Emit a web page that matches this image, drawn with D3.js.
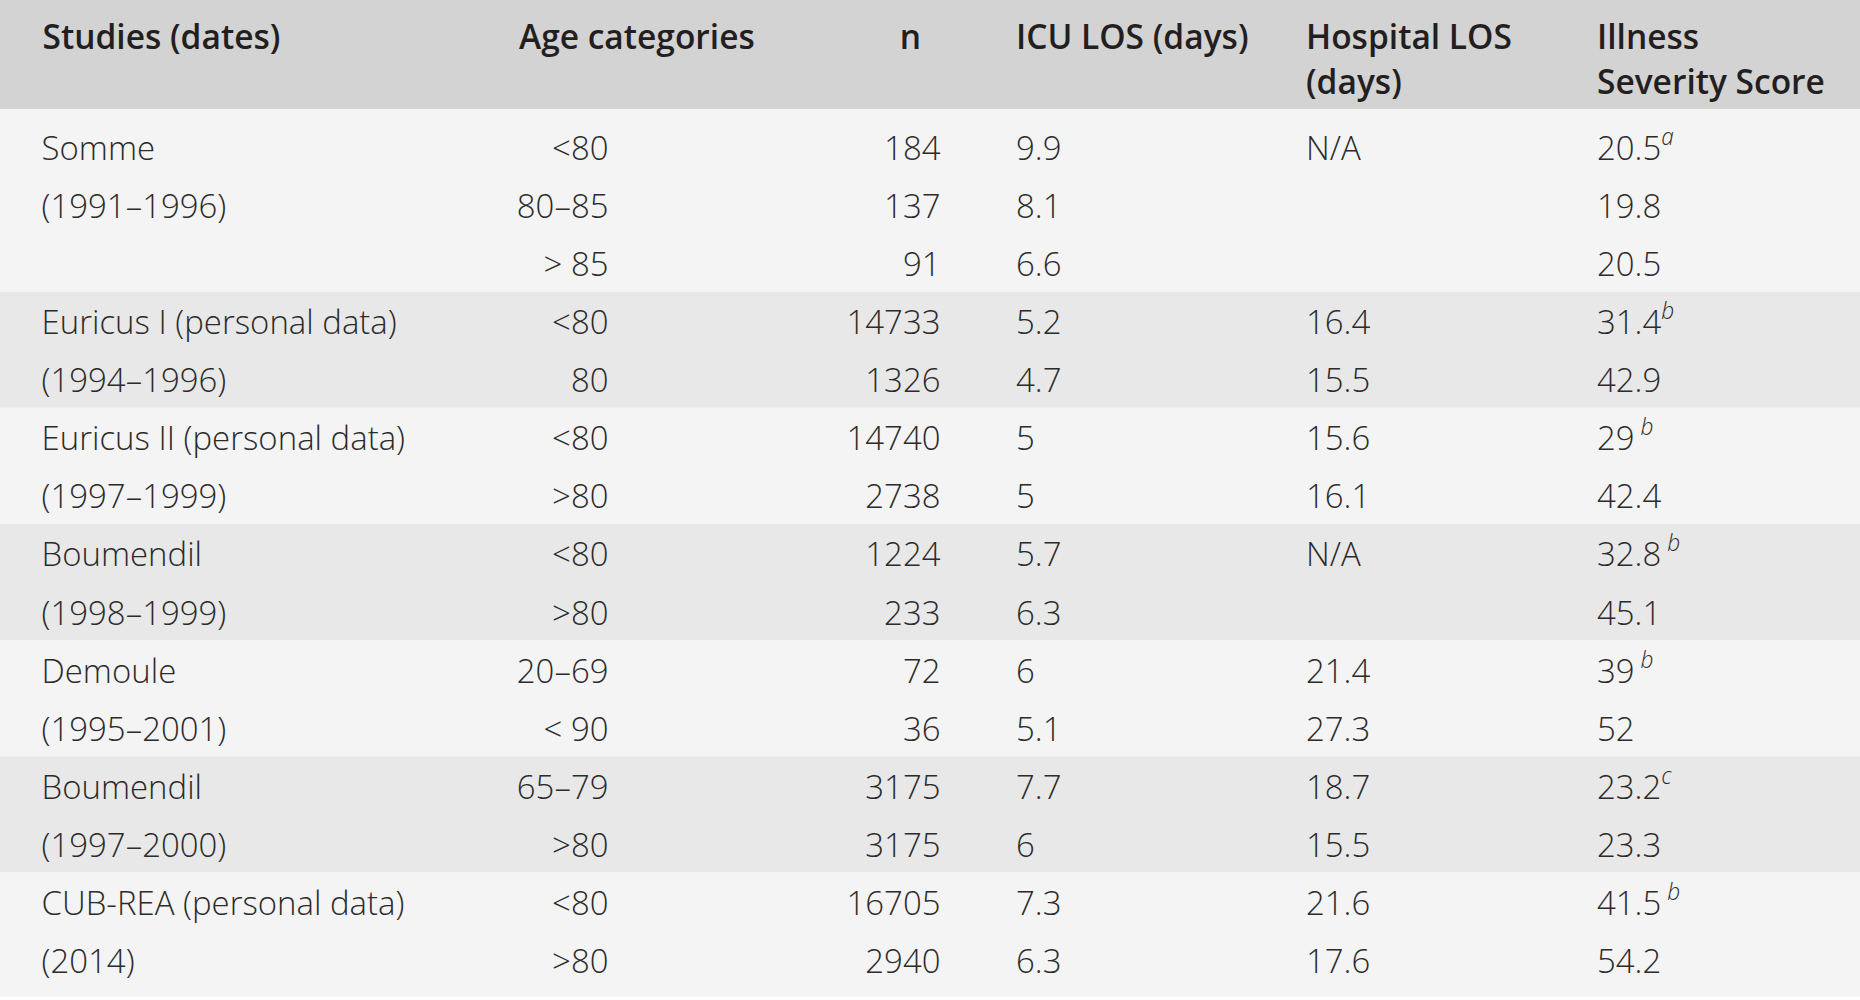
<!DOCTYPE html>
<html>
<head>
<meta charset="utf-8">
<script src="https://cdn.jsdelivr.net/npm/d3@7"></script>
<style>
  body { margin: 0; background: #fff; }
  svg { display: block; }
  text { white-space: pre; }
</style>
</head>
<body>
<div id="chart"></div>
<script>
// table content
const headers = [["Studies (dates)"], ["Age categories"], ["n"], ["ICU LOS (days)"], ["Hospital LOS", "(days)"], ["Illness", "Severity Score"]];
const studies = [
    ["Somme", "(1991–1996)"],
    ["Euricus I (personal data)", "(1994–1996)"],
    ["Euricus II (personal data)", "(1997–1999)"],
    ["Boumendil", "(1998–1999)"],
    ["Demoule", "(1995–2001)"],
    ["Boumendil", "(1997–2000)"],
    ["CUB-REA (personal data)", "(2014)"]
];
const groupSizes = [3, 2, 2, 2, 2, 2, 2];
const ageCategories = ["<80", "80–85", "> 85", "<80", "80", "<80", ">80", "<80", ">80", "20–69", "< 90", "65–79", ">80", "<80", ">80"];
const nValues = [184, 137, 91, 14733, 1326, 14740, 2738, 1224, 233, 72, 36, 3175, 3175, 16705, 2940];
const icuLos = ["9.9", "8.1", "6.6", "5.2", "4.7", "5", "5", "5.7", "6.3", "6", "5.1", "7.7", "6", "7.3", "6.3"];
const hospitalLos = ["N/A", "", "", "16.4", "15.5", "15.6", "16.1", "N/A", "", "21.4", "27.3", "18.7", "15.5", "21.6", "17.6"];
const severity = ["20.5", "19.8", "20.5", "31.4", "42.9", "29", "42.4", "32.8", "45.1", "39", "52", "23.2", "23.3", "41.5", "54.2"];
const footnotes = ["a", "", "", "b", "", " b", "", " b", "", " b", "", "c", "", " b", ""];

const width = 1860;
const height = 1000;
const headerHeight = 109;
const rowTop = 117.5;
const lineHeight = 58.07;
const bodyFont = "'Open Sans', 'Noto Sans', sans-serif";

// flatten into one entry per printed line
const lines = [];
let start = 0;
groupSizes.forEach((size, g) => {
    for (let j = 0; j < size; j++) {
        const i = start + j;
        lines.push({
            i: i, group: g,
            study: studies[g][j] || "",
            age: ageCategories[i],
            n: String(nValues[i]),
            icu: icuLos[i],
            hosp: hospitalLos[i],
            score: severity[i],
            note: footnotes[i]
        });
    }
    start += size;
});

const y = d3.scaleBand()
    .domain(d3.range(lines.length))
    .range([rowTop, rowTop + lines.length * lineHeight])
    .paddingInner(0);

const svg = d3.select("#chart").append("svg")
    .attr("width", width)
    .attr("height", height)
    .attr("viewBox", [0, 0, width, height]);

// measure fonts so the text widths match the original typeface
function measure(str, weight, size) {
    const t = svg.append("text")
        .attr("font-family", bodyFont)
        .attr("font-weight", weight)
        .attr("font-size", size)
        .text(str);
    const w = t.node().getComputedTextLength();
    t.remove();
    return w;
}
const bodySize = 33.5;
const headSize = 35;
const bodyScale = 363.6 / measure("Euricus II (personal data)", 300, bodySize);
const headScale = 238 / measure("Studies (dates)", 600, headSize);

// backgrounds
svg.append("rect")
    .attr("x", 0).attr("y", 0)
    .attr("width", width).attr("height", headerHeight)
    .attr("fill", "#d3d3d3");

let first = 0;
const groups = groupSizes.map((size, g) => {
    const r = { g: g, first: first, last: first + size - 1 };
    first += size;
    return r;
});

svg.append("g")
    .selectAll("rect")
    .data(groups)
    .join("rect")
    .attr("x", 0)
    .attr("width", width)
    .attr("y", d => d.g === 0 ? headerHeight : y(d.first))
    .attr("height", d => {
        const top = d.g === 0 ? headerHeight : y(d.first);
        const bottom = y(d.last) + y.bandwidth() + (d.g === groups.length - 1 ? 8 : 0);
        return bottom - top;
    })
    .attr("fill", d => d.g % 2 === 0 ? "#f4f4f4" : "#e8e8e8");

// header
const headerX = [42.5, 519, 921, 1016, 1306, 1597];
const headerAnchor = ["start", "start", "end", "start", "start", "start"];
const headerBase = [49, 94];

headers.forEach((hLines, c) => {
    hLines.forEach((str, k) => {
        svg.append("g")
            .attr("transform", `translate(${headerX[c]},${headerBase[k]}) scale(${headScale},1)`)
            .append("text")
            .attr("font-family", bodyFont)
            .attr("font-weight", 600)
            .attr("font-size", headSize)
            .attr("fill", "#231f20")
            .attr("text-anchor", headerAnchor[c])
            .text(str);
    });
});

// body cells
const columns = [
    { key: "study", x: 41.5, anchor: "start" },
    { key: "age", x: 608.5, anchor: "end" },
    { key: "n", x: 940.5, anchor: "end" },
    { key: "icu", x: 1016, anchor: "start" },
    { key: "hosp", x: 1306, anchor: "start" },
    { key: "score", x: 1597, anchor: "start" }
];

const cells = [];
lines.forEach(d => {
    columns.forEach(col => {
        if (d[col.key] !== "") cells.push({ line: d, col: col });
    });
});

const cell = svg.append("g")
    .selectAll("g")
    .data(cells)
    .join("g")
    .attr("transform", d => `translate(${d.col.x},${y(d.line.i) + 42.5}) scale(${bodyScale},1)`)
    .append("text")
    .attr("font-family", bodyFont)
    .attr("font-weight", 300)
    .attr("font-size", bodySize)
    .attr("fill", "#2b2b2b")
    .attr("text-anchor", d => d.col.anchor)
    .text(d => d.line[d.col.key]);

// footnote letters on the severity column
cell.filter(d => d.col.key === "score" && d.line.note !== "")
    .append("tspan")
    .attr("font-size", 23)
    .attr("font-style", "italic")
    .attr("dy", -15)
    .text(d => d.line.note);
</script>
</body>
</html>
